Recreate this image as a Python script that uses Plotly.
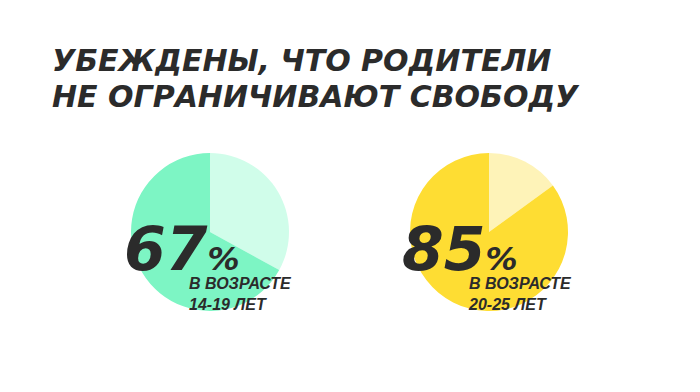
import plotly.graph_objects as go

# Data
title_lines = ["УБЕЖДЕНЫ, ЧТО РОДИТЕЛИ", "НЕ ОГРАНИЧИВАЮТ СВОБОДУ"]
groups = ["14-19 ЛЕТ", "20-25 ЛЕТ"]
agree_pct = [67, 85]
other_pct = [33, 15]
dark_colors = ["#7df5c4", "#fedd33"]
light_colors = ["#d0fdea", "#fef3b8"]

W, H = 700, 392
centers_x = [210, 489]
center_y = 232
radius = 79

fig = go.Figure()
for i in range(2):
    cx = centers_x[i]
    fig.add_trace(go.Pie(
        values=[other_pct[i], agree_pct[i]],
        labels=["other", "agree"],
        marker=dict(colors=[light_colors[i], dark_colors[i]], line=dict(width=0)),
        sort=False, direction="clockwise", rotation=0,
        textinfo="none", hoverinfo="skip", showlegend=False,
        domain=dict(x=[(cx - radius) / W, (cx + radius) / W],
                    y=[(H - center_y - radius) / H, (H - center_y + radius) / H]),
    ))

font_family = "DejaVu Sans"
text_color = "#2b2b2b"

ann = []
# Title
for j, line in enumerate(title_lines):
    ann.append(dict(text=line, x=50 / W, y=1 - (60 + 36 * j) / H, xref="paper", yref="paper",
                    xanchor="left", yanchor="middle", showarrow=False,
                    font=dict(family=font_family, size=30, color=text_color, weight=700, style="italic")))

num_left = [122, 400]
sub_left = [187, 466]
for i in range(2):
    ann.append(dict(text=f"{agree_pct[i]}<span style='font-size:32px'>%</span>",
                    x=num_left[i] / W, y=1 - 265 / H, xref="paper", yref="paper",
                    xanchor="left", yanchor="bottom", yshift=-21, showarrow=False,
                    font=dict(family=font_family, size=60, color=text_color, weight=700, style="italic")))
    ann.append(dict(text=f"В ВОЗРАСТЕ<br>{groups[i]}",
                    x=sub_left[i] / W, y=1 - 273 / H, xref="paper", yref="paper",
                    xanchor="left", yanchor="top", align="left", showarrow=False,
                    font=dict(family="Liberation Sans", size=16, color=text_color, weight=700, style="italic")))

fig.update_layout(width=W, height=H, margin=dict(l=0, r=0, t=0, b=0),
                  paper_bgcolor="white", plot_bgcolor="white", annotations=ann)
fig.write_html("out.html")
